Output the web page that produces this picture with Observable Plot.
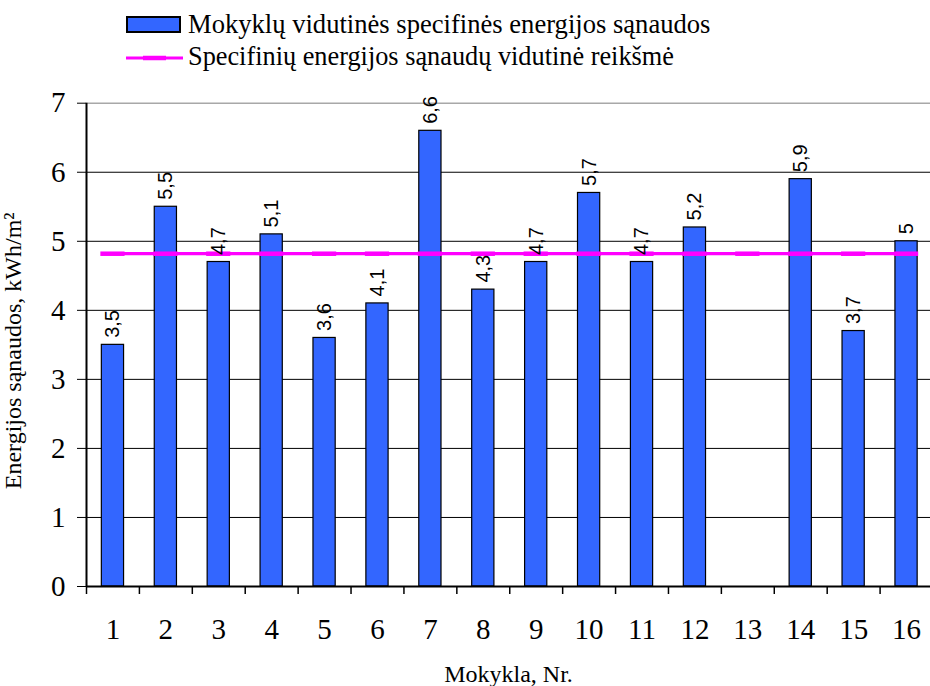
<!DOCTYPE html>
<html>
<head>
<meta charset="utf-8">
<script src="https://cdn.jsdelivr.net/npm/d3@7"></script>
<script src="https://cdn.jsdelivr.net/npm/@observablehq/plot@0.6"></script>
<style>
  body { margin: 0; background: #fff; }
  #legend { display: block; }
  #chart svg { display: block; }
</style>
</head>
<body>
<svg id="legend" width="930" height="80" xmlns="http://www.w3.org/2000/svg"></svg>
<div id="chart"></div>
<script>
// ---- data ----
const schools = ["1","2","3","4","5","6","7","8","9","10","11","12","13","14","15","16"];
const consumption = [3.5, 5.5, 4.7, 5.1, 3.6, 4.1, 6.6, 4.3, 4.7, 5.7, 4.7, 5.2, null, 5.9, 3.7, 5.0];
const meanValues = [4.82, 4.82, 4.82, 4.82, 4.82, 4.82, 4.82, 4.82, 4.82, 4.82, 4.82, 4.82, 4.82, 4.82, 4.82, 4.82];
const yTicks = [0, 1, 2, 3, 4, 5, 6, 7];
const gridTicks = [1, 2, 3, 4, 5, 6];
const seriesNames = ["Mokyklų vidutinės specifinės energijos sąnaudos", "Specifinių energijos sąnaudų vidutinė reikšmė"];
const yTitle = "Energijos sąnaudos, kWh/m²";
const xTitle = "Mokykla, Nr.";

const bars = schools.map((s, i) => ({school: s, value: consumption[i]})).filter(d => d.value != null);
const meanRows = schools.map((s, i) => ({school: s, value: meanValues[i]}));

// ---- style ----
const serif = "'Liberation Serif', 'Times New Roman', serif";
const sans = "'Liberation Sans', Arial, sans-serif";
const blue = "#3366FF";
const magenta = "#FF00FF";

// ---- legend ----
const leg = d3.select("#legend");
leg.append("rect").attr("x", 127).attr("y", 17).attr("width", 53).attr("height", 15)
  .attr("fill", blue).attr("stroke", "black").attr("stroke-width", 2);
leg.append("text").attr("x", 188).attr("y", 33).attr("font-family", serif).attr("font-size", 26.6)
  .text(seriesNames[0]);
leg.append("line").attr("x1", 126).attr("x2", 183).attr("y1", 58).attr("y2", 58)
  .attr("stroke", magenta).attr("stroke-width", 3);
leg.append("line").attr("x1", 143).attr("x2", 166).attr("y1", 58).attr("y2", 58)
  .attr("stroke", magenta).attr("stroke-width", 4.5);
leg.append("text").attr("x", 188).attr("y", 65).attr("font-family", serif).attr("font-size", 26.3)
  .text(seriesNames[1]);

// ---- chart ----
const W = 930, H = 606;
const left = 86, rightEnd = 932.5;
const step = (rightEnd - left) / schools.length;

const chart = Plot.plot({
  width: W,
  height: H,
  marginLeft: left,
  marginRight: 0,
  marginTop: 22.7,
  marginBottom: 100,
  style: {background: "white", color: "black", fontFamily: serif},
  x: {type: "band", domain: schools, range: [left, rightEnd], paddingInner: 0.58, paddingOuter: 0.29, round: false},
  y: {domain: [0, 7]},
  marks: [
    Plot.ruleY(gridTicks, {stroke: "black", strokeWidth: 1}),
    Plot.ruleY([7], {stroke: "#a8a8a8", strokeWidth: 1.5}),
    Plot.barY(bars, {x: "school", y: "value", fill: blue, stroke: "black", strokeWidth: 1.2}),
    Plot.ruleY([0], {stroke: "black", strokeWidth: 2}),
    Plot.ruleX([schools[0]], {y1: 0, y2: 7, dx: -step / 2, stroke: "black", strokeWidth: 2}),
    Plot.axisY({ticks: yTicks, tickSize: 9, tickPadding: 12, fontSize: 29, fontFamily: serif, label: null, tickFormat: d => String(d)}),
    Plot.axisX({ticks: schools, tickSize: 8, tickFormat: () => "", dx: -step / 2, label: null, strokeWidth: 1.5}),
    Plot.axisX({ticks: schools, tickSize: 0, tickPadding: 32, fontSize: 29, fontFamily: serif, label: null}),
    Plot.lineY(meanRows, {x: "school", y: "value", stroke: magenta, strokeWidth: 3.3}),
    Plot.tickY(meanRows, {x: "school", y: "value", stroke: magenta, strokeWidth: 4.5, insetLeft: -1, insetRight: -1}),
    Plot.text(bars, {x: "school", y: "value", text: d => String(d.value).replace(".", ","), rotate: -90, textAnchor: "start", lineAnchor: "middle", dy: -7, fontSize: 20, fontFamily: sans, fill: "black"}),
    Plot.text([yTitle], {frameAnchor: "left", textAnchor: "middle", lineAnchor: "middle", rotate: -90, dx: -72.7, dy: 6, fontSize: 24, fontFamily: serif, fill: "black"}),
    Plot.text([xTitle], {frameAnchor: "bottom", textAnchor: "middle", lineAnchor: "middle", dy: 88.3, fontSize: 24, fontFamily: serif, fill: "black"})
  ]
});
document.getElementById("chart").appendChild(chart);
</script>
</body>
</html>
